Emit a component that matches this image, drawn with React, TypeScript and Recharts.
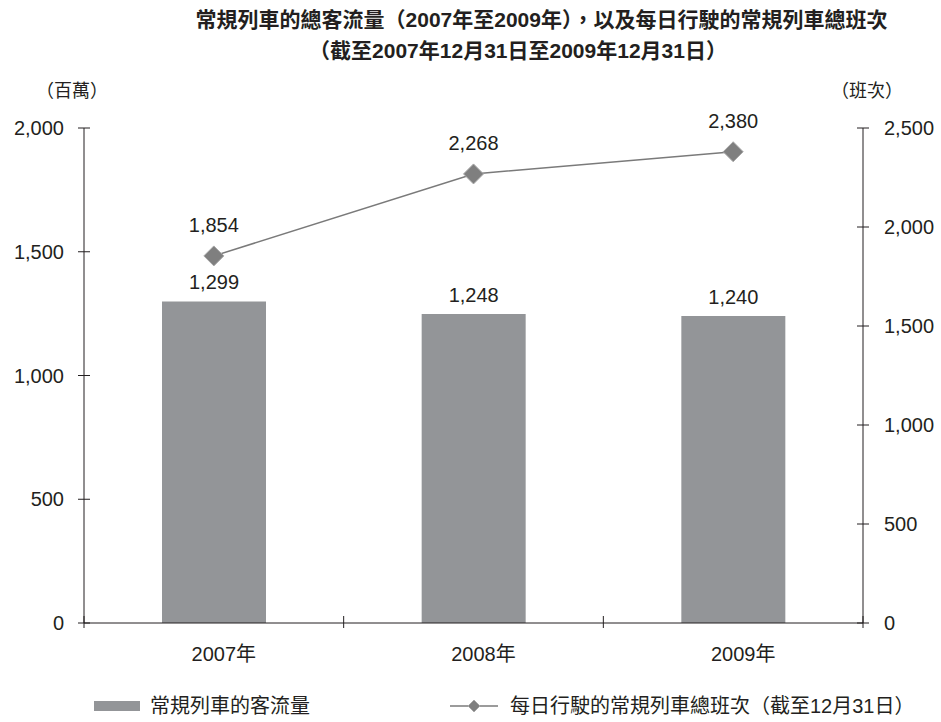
import React from 'react';
import {ComposedChart, Bar, Line, XAxis, YAxis, LabelList} from 'recharts';

// 年份與兩組數值
const years = ['2007年', '2008年', '2009年'];
const passengers = [1299, 1248, 1240]; // 常規列車的客流量（百萬）
const dailyTrips = [1854, 2268, 2380]; // 每日行駛的常規列車總班次

const leftTicks = [0, 500, 1000, 1500, 2000];
const rightTicks = [0, 500, 1000, 1500, 2000, 2500];

const chartData = years.map((year, i) => ({
    year,
    passengers: passengers[i],
    dailyTrips: dailyTrips[i],
}));

const INK = '#231f20';
const BAR_GRAY = '#939598';
const LINE_GRAY = '#7a7a7a';
const NUM_FONT = "'Liberation Sans', Arial, 'Noto Sans CJK TC', sans-serif";

const TICK_SIZE = 6;
const TICK_MARGIN = 14;
const X_TICK_MARGIN = 18;

const fmt = (v: number) => v.toLocaleString('en-US');

// 左軸刻度：刻度線橫跨軸線
const LeftTick = (props: any) => {
    const {x, y, payload} = props;
    const axisX = x + TICK_SIZE + TICK_MARGIN;
    return (
        <g>
            <line x1={axisX - 6} x2={axisX + 6} y1={y} y2={y} stroke={INK} strokeWidth={1}/>
            <text x={x} y={y} dy="0.355em" textAnchor="end" fill={INK} fontSize={20} fontFamily={NUM_FONT}>
                {fmt(payload.value)}
            </text>
        </g>
    );
};

const RightTick = (props: any) => {
    const {x, y, payload} = props;
    const axisX = x - TICK_SIZE - TICK_MARGIN;
    return (
        <g>
            <line x1={axisX - 6} x2={axisX + 6} y1={y} y2={y} stroke={INK} strokeWidth={1}/>
            <text x={x + 1} y={y} dy="0.355em" textAnchor="start" fill={INK} fontSize={20} fontFamily={NUM_FONT}>
                {fmt(payload.value)}
            </text>
        </g>
    );
};

// 橫軸刻度線畫在類別邊界上，標籤略偏右
const YearTick = (props: any) => {
    const {x, y, payload, index, visibleTicksCount} = props;
    const axisY = y - TICK_SIZE - X_TICK_MARGIN;
    const half = payload.offset || 130;
    const last = index === (visibleTicksCount ?? years.length) - 1;
    return (
        <g>
            <line x1={x - half} x2={x - half} y1={axisY - 7} y2={axisY + 5} stroke={INK} strokeWidth={1}/>
            {last && (
                <line x1={x + half} x2={x + half} y1={axisY - 7} y2={axisY + 5} stroke={INK} strokeWidth={1}/>
            )}
            <text x={x} y={y} dx={10} dy="0.71em" textAnchor="middle" fill={INK} fontSize={20} fontFamily={NUM_FONT}>
                {payload.value}
            </text>
        </g>
    );
};

const Diamond = (props: any) => {
    const {cx, cy} = props;
    if (cx == null || cy == null) return null;
    const r = 10;
    return (
        <polygon
            points={`${cx},${cy - r} ${cx + r},${cy} ${cx},${cy + r} ${cx - r},${cy}`}
            fill="#7f7f7f"
            stroke="#a9a9a9"
            strokeWidth={1}
        />
    );
};

export default function App() {
    return (
        <div style={{position: 'absolute', left: 0, top: 0, width: 941, height: 722, background: '#fff', fontFamily: NUM_FONT, color: INK}}>
            <div style={{position: 'absolute', left: 0, width: 1083, top: 8, textAlign: 'center', fontSize: 21, fontWeight: 'bold', lineHeight: '24px'}}>
                常規列車的總客流量（2007年至2009年），以及每日行駛的常規列車總班次
            </div>
            <div style={{position: 'absolute', left: 0, width: 1036, top: 39, textAlign: 'center', fontSize: 21, fontWeight: 'bold', lineHeight: '24px'}}>
                （截至2007年12月31日至2009年12月31日）
            </div>
            <div style={{position: 'absolute', left: 36, top: 80, fontSize: 18, lineHeight: '22px'}}>（百萬）</div>
            <div style={{position: 'absolute', left: 831, top: 80, fontSize: 18, lineHeight: '22px'}}>（班次）</div>

            <ComposedChart
                width={941}
                height={722}
                data={chartData}
                margin={{top: 128, right: 0, left: 0, bottom: 0}}
                style={{position: 'absolute', left: 0, top: 0}}
            >
                <XAxis
                    dataKey="year"
                    height={99}
                    axisLine={{stroke: INK}}
                    tickLine={false}
                    tickSize={TICK_SIZE}
                    tickMargin={X_TICK_MARGIN}
                    tick={<YearTick/>}
                    interval={0}
                />
                <YAxis
                    yAxisId="left"
                    width={84}
                    domain={[0, 2000]}
                    ticks={leftTicks}
                    axisLine={{stroke: INK}}
                    tickLine={false}
                    tickSize={TICK_SIZE}
                    tickMargin={TICK_MARGIN}
                    tick={<LeftTick/>}
                    interval={0}
                />
                <YAxis
                    yAxisId="right"
                    orientation="right"
                    width={78}
                    domain={[0, 2500]}
                    ticks={rightTicks}
                    axisLine={{stroke: INK}}
                    tickLine={false}
                    tickSize={TICK_SIZE}
                    tickMargin={TICK_MARGIN}
                    tick={<RightTick/>}
                    interval={0}
                />
                <Bar yAxisId="left" dataKey="passengers" fill={BAR_GRAY} barSize={104} isAnimationActive={false}>
                    <LabelList dataKey="passengers" position="top" offset={12} fill={INK} fontSize={20}
                               fontFamily={NUM_FONT} formatter={(v: any) => fmt(Number(v))}/>
                </Bar>
                <Line
                    yAxisId="right"
                    dataKey="dailyTrips"
                    stroke={LINE_GRAY}
                    strokeWidth={1.5}
                    dot={<Diamond/>}
                    activeDot={false}
                    isAnimationActive={false}
                >
                    <LabelList dataKey="dailyTrips" position="top" offset={24} fill={INK} fontSize={20}
                               fontFamily={NUM_FONT} formatter={(v: any) => fmt(Number(v))}/>
                </Line>
            </ComposedChart>

            {/* 圖例 */}
            <div style={{position: 'absolute', left: 94, top: 694, display: 'flex', alignItems: 'center', fontSize: 20, lineHeight: '24px'}}>
                <svg width={46} height={12} style={{marginRight: 10}}>
                    <rect x={0} y={1} width={46} height={10} fill={BAR_GRAY}/>
                </svg>
                <span>常規列車的客流量</span>
            </div>
            <div style={{position: 'absolute', left: 450, top: 694, display: 'flex', alignItems: 'center', fontSize: 20, lineHeight: '24px'}}>
                <svg width={48} height={14} style={{marginRight: 12}}>
                    <line x1={0} x2={48} y1={7} y2={7} stroke={LINE_GRAY} strokeWidth={1.5}/>
                    <polygon points="24,1 30,7 24,13 18,7" fill="#7f7f7f" stroke="#a9a9a9" strokeWidth={1}/>
                </svg>
                <span>每日行駛的常規列車總班次（截至12月31日）</span>
            </div>
        </div>
    );
}
